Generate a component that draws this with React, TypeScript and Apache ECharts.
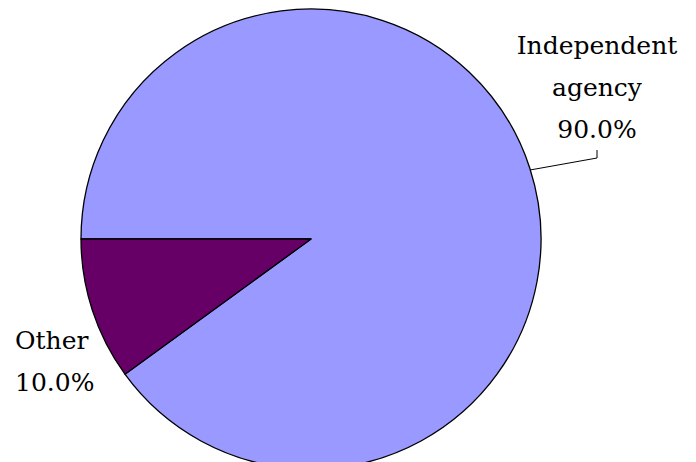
import React, { useEffect, useRef } from "react";
import * as echarts from "echarts";

const categories = ["Independent agency", "Other"];
const values = [90.0, 10.0];
const colors = ["#9999FF", "#660066"];

export default function App() {
  const ref = useRef<HTMLDivElement>(null);
  useEffect(() => {
    document.body.style.margin = "0";
    const chart = echarts.init(ref.current!, null, { renderer: "svg" });
    chart.setOption({
      animation: false,
      backgroundColor: "#ffffff",
      series: [
        {
          type: "pie",
          center: [311, 239],
          radius: 230,
          startAngle: 180,
          clockwise: true,
          avoidLabelOverlap: false,
          data: categories.map((c, i) => ({
            name: c,
            value: values[i],
            itemStyle: { color: colors[i] },
            labelLine: { show: i === 0 },
          })),
          itemStyle: { borderColor: "#000000", borderWidth: 1.3 },
          label: {
            show: true,
            position: "outside",
            fontFamily: "DejaVu Serif",
            fontSize: 25,
            lineHeight: 42,
            color: "#000000",
            formatter: (p: any) =>
              (p.dataIndex === 0 ? p.name.replace(" ", "\n") : p.name) +
              "\n" +
              p.value.toFixed(1) +
              "%",
          },
          labelLine: {
            show: true,
            lineStyle: { color: "#000000", width: 1 },
          },
          emphasis: { disabled: true },
          labelLayout: (params: any) => {
            if (params.dataIndex === 0) {
              return {
                x: 597,
                y: 87,
                align: "center",
                verticalAlign: "middle",
                labelLinePoints: [
                  [530, 170],
                  [597, 158],
                  [597, 150],
                ],
              };
            }
            return {
              x: 15,
              y: 361,
              align: "left",
              verticalAlign: "middle",
            };
          },
        },
      ],
    });
    return () => chart.dispose();
  }, []);
  return <div ref={ref} style={{ width: 696, height: 462 }} />;
}
